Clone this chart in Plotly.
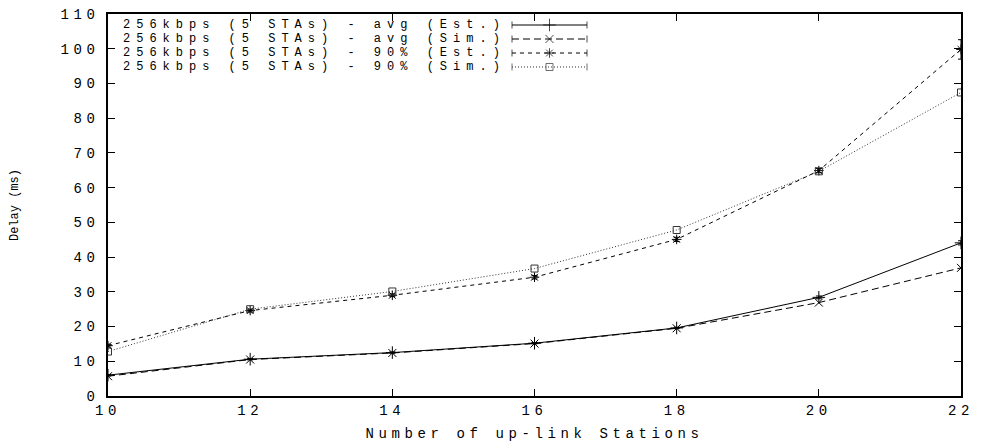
import plotly.graph_objects as go

# ---- data ----
stations = [10, 12, 14, 16, 18, 20, 22]
avg_est = [6.0, 10.6, 12.5, 15.2, 19.6, 28.4, 44.1]
avg_sim = [5.7, 10.5, 12.4, 15.1, 19.5, 26.9, 36.9]
p90_est = [14.5, 24.6, 29.0, 34.2, 45.1, 64.9, 99.8]
p90_sim = [12.8, 25.0, 30.1, 36.7, 47.8, 64.7, 87.4]
avg_est_err = [0.2, 0.2, 0.2, 0.2, 0.2, 0.4, 0.6]
p90_est_err = [0.4, 0.4, 0.4, 0.5, 0.6, 0.6, 2.8]

series_names = [
    "256kbps (5 STAs) - avg (Est.)",
    "256kbps (5 STAs) - avg (Sim.)",
    "256kbps (5 STAs) - 90% (Est.)",
    "256kbps (5 STAs) - 90% (Sim.)",
]
x_ticks = [10, 12, 14, 16, 18, 20, 22]
y_ticks = list(range(0, 111, 10))
x_title = "Number of up-link Stations"
y_title = "Delay (ms)"

FONT = "Liberation Mono"


def sp(t, ls=4.6):
    return f'<span style="letter-spacing:{ls}px">{t}</span>'


styles = [
    dict(dash="solid", symbol="cross-thin-open", size=9, color="#000"),
    dict(dash="7px,4px", symbol="x-thin-open", size=8, color="#000"),
    dict(dash="4px,4px", symbol="asterisk-open", size=8, color="#000"),
    dict(dash="1px,2px", symbol="square-open", size=7, color="#333"),
]
ys = [avg_est, avg_sim, p90_est, p90_sim]
errs = [avg_est_err, None, p90_est_err, None]

fig = go.Figure()
for name, y, st, er in zip(series_names, ys, styles, errs):
    tr = go.Scatter(
        x=stations, y=y, mode="lines+markers", name=name, showlegend=False,
        line=dict(color=st["color"], width=1, dash=st["dash"]),
        marker=dict(symbol=st["symbol"], size=st["size"], color=st["color"],
                    line=dict(width=1, color=st["color"])),
    )
    if er is not None:
        tr.error_y = dict(type="data", array=er, visible=True, thickness=1,
                          width=3, color=st["color"])
    fig.add_trace(tr)

# page body has an 8px margin: compensate so the screen layout matches
OFF = 8
W, H = 982 - OFF, 443 - OFF
# plot area in screen pixels
L, R, T, B = 108, 961, 14, 396

# ---- manual gnuplot-style legend (text left, sample right) ----
row_y = [25, 39, 53, 67]
for i, (name, st) in enumerate(zip(series_names, styles)):
    py = row_y[i]
    fig.add_trace(go.Scatter(
        x=[512, 549.5, 587], y=[py, py, py], xaxis="x2", yaxis="y2",
        mode="lines+markers", showlegend=False, hoverinfo="skip",
        line=dict(color=st["color"], width=1, dash=st["dash"]),
        marker=dict(symbol=["line-ns-open", st["symbol"], "line-ns-open"],
                    size=[5, st["size"], 5], color=st["color"],
                    line=dict(width=1, color=st["color"])),
    ))
    fig.add_annotation(
        text=sp(name, 6.0), xref="paper", yref="paper",
        x=(508 - L) / (R - L), y=(B - py) / (B - T),
        xanchor="right", yanchor="middle", showarrow=False,
        font=dict(family=FONT, size=12, color="#000"),
    )

axis_common = dict(
    showline=True, mirror="allticks", linecolor="#000", linewidth=1.5,
    ticks="inside", ticklen=7, tickwidth=1, tickcolor="#000",
    showgrid=False, zeroline=False, automargin=False,
    ticklabeloverflow="allow",
    tickfont=dict(family=FONT, size=14, color="#000"),
)

fig.update_layout(
    width=W, height=H,
    margin=dict(l=L - OFF, r=982 - R, t=T - OFF, b=443 - B),
    paper_bgcolor="#fff", plot_bgcolor="#fff",
    xaxis=dict(range=[10, 22], tickvals=x_ticks,
               ticktext=[sp(t) for t in x_ticks],
               title=dict(text=sp(x_title), standoff=11,
                          font=dict(family=FONT, size=14, color="#000")),
               **axis_common),
    yaxis=dict(range=[0, 110], tickvals=y_ticks,
               ticktext=[sp(t) for t in y_ticks], ticklabelstandoff=4,
               title=dict(text=y_title, standoff=43,
                          font=dict(family=FONT, size=12, color="#000")),
               **axis_common),
    xaxis2=dict(overlaying="x", range=[L, R], visible=False),
    yaxis2=dict(overlaying="y", range=[B, T], visible=False),
)

fig.write_html("out.html")
